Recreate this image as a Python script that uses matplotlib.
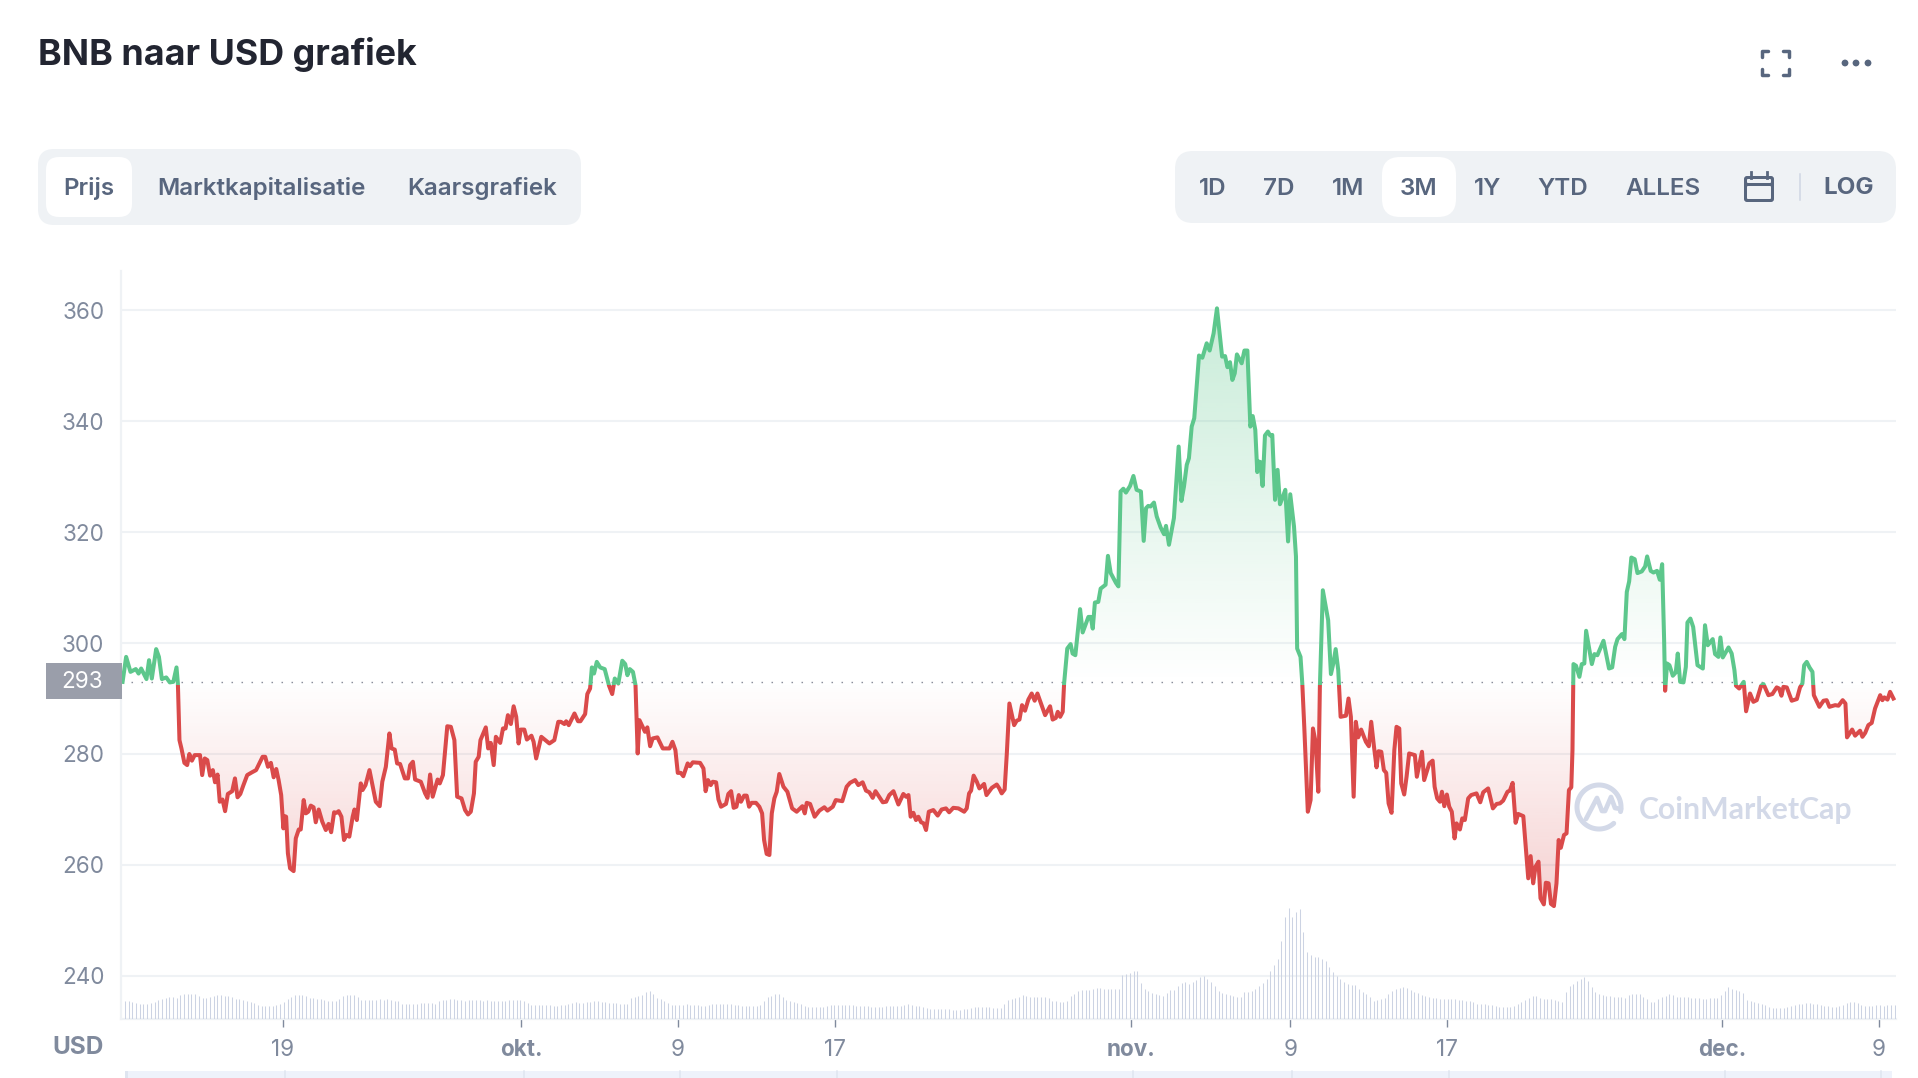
import matplotlib
matplotlib.use("Agg")
import matplotlib.pyplot as plt
import matplotlib.patches as mpatches
from matplotlib.path import Path
import numpy as np

plt.rcParams['font.family'] = ['Inter', 'DejaVu Sans']

# prijs: (dag, USD), dag 1 = 1 sept.
sep_points = [
    (10.88,293.0),(11.06,297.5),(11.28,294.8),(11.55,295.3),(11.69,294.5),(11.82,295.4),(12.09,293.5),(12.22,296.9),
    (12.36,293.6),(12.58,298.9),(12.72,297.5),(12.87,293.5),(13.09,293.8),(13.27,292.9),(13.45,293.0),(13.61,295.6),
    (13.68,292.7),(13.76,282.5),(13.86,281.0),(14.01,278.4),(14.15,278.0),(14.26,280.0),(14.39,278.8),(14.53,279.8),
    (14.80,279.8),(14.91,276.2),(15.04,279.2),(15.17,278.9),(15.31,276.1),(15.45,277.1),(15.56,274.9),(15.69,276.3),
    (15.80,271.4),(15.94,271.8),(16.07,269.7),(16.21,272.8),(16.43,273.3),(16.57,275.6),(16.70,272.2),(16.84,272.8),
    (17.00,274.4),(17.19,276.2),(17.43,276.7),(17.64,277.1),(17.97,279.5),(18.10,279.5),(18.24,277.7),(18.39,278.4),
    (18.53,275.8),(18.66,277.3),(18.78,275.3),(18.91,272.6),(19.02,266.6),(19.09,268.8),(19.16,268.7),(19.25,262.1),
    (19.36,259.4),(19.54,258.9),(19.65,264.8),(19.80,266.4),(19.90,266.4),(20.05,271.7),(20.16,269.3),(20.28,269.6),
    (20.41,270.7),(20.55,270.4),(20.66,267.7),(20.81,270.0),(20.99,267.8),(21.17,266.3),(21.31,267.4),(21.44,265.9),
    (21.59,269.5),(21.71,269.4),(21.82,269.7),(21.96,268.7),(22.09,264.5),(22.22,265.4),(22.36,265.1),(22.53,268.7),
    (22.62,270.0),(22.74,268.1),(22.94,274.7),(23.03,273.5),(23.18,274.4),(23.38,277.1),(23.70,271.4),(23.90,270.6),
    (24.03,275.0),(24.21,277.7),(24.39,283.7),(24.50,281.0),(24.66,280.8),(24.78,278.3),(24.93,278.2),(25.17,275.6),
    (25.33,275.6),(25.44,278.0),(25.58,278.6),(25.69,275.4),(25.98,275.0),(26.20,272.9),(26.32,272.1),(26.45,276.3),
    (26.58,272.3),(26.83,275.4),(26.94,274.7),(27.10,276.2),(27.32,285.0),(27.50,284.9),(27.68,282.5),(27.82,272.3),
    (28.04,272.0),(28.22,269.9),(28.37,269.1),(28.51,269.6),(28.67,272.9),(28.76,278.6),(28.91,279.5),(29.00,282.5),
    (29.27,284.8),(29.39,281.0),(29.52,282.0),(29.67,278.0),(29.78,283.1),(30.00,282.0),(30.14,284.6),(30.27,284.6),
    (30.39,287.0),(30.54,285.4),(30.68,288.6),(30.81,286.7),
]
okt_points = [
    (30.93,281.9),(31.04,284.4),(31.22,284.4),(31.35,282.6),(31.58,283.3),(31.69,282.2),(31.82,279.2),(32.08,283.1),
    (32.49,281.9),(32.74,282.5),(32.94,285.8),(33.07,285.8),(33.25,285.4),(33.34,285.9),(33.47,285.2),(33.76,287.3),
    (33.94,285.9),(34.06,285.9),(34.30,287.2),(34.41,290.8),(34.55,291.8),(34.64,295.6),(34.75,294.5),(34.89,296.6),
    (35.06,295.6),(35.29,295.3),(35.51,292.3),(35.67,290.8),(35.80,293.6),(35.98,292.7),(36.18,296.8),(36.33,296.2),
    (36.44,294.2),(36.56,295.3),(36.72,294.8),(36.85,292.4),(36.96,280.1),(37.05,286.1),(37.33,284.0),(37.45,284.8),
    (37.59,281.4),(37.72,282.8),(37.96,283.0),(38.23,281.0),(38.57,281.0),(38.72,282.2),(38.87,280.7),(38.99,276.6),
    (39.14,276.6),(39.27,276.0),(39.49,278.3),(39.61,277.8),(39.75,278.5),(40.12,278.4),(40.29,277.4),(40.40,273.3),
    (40.52,275.3),(40.66,274.4),(40.76,275.0),(40.93,274.9),(41.05,271.8),(41.18,270.5),(41.43,271.0),(41.55,272.8),
    (41.69,273.3),(41.82,270.3),(41.96,270.5),(42.08,272.6),(42.19,271.4),(42.35,272.5),(42.48,272.5),(42.60,270.5),
    (42.73,271.2),(42.95,271.2),(43.12,270.5),(43.26,269.3),(43.36,264.5),(43.49,262.0),(43.63,261.8),(43.75,269.3),
    (43.88,272.0),(44.00,273.2),(44.13,276.4),(44.34,274.1),(44.54,273.2),(44.78,270.2),(45.01,269.6),(45.30,270.6),
    (45.42,269.3),(45.52,271.2),(45.69,271.0),(45.92,268.7),(46.16,269.8),(46.41,270.4),(46.57,269.8),(46.84,270.5),
    (46.99,271.7),(47.32,271.5),(47.54,274.1),(47.71,274.8),(47.97,275.3),(48.13,274.4),(48.35,274.9),(48.52,273.4),
    (48.69,273.1),(48.86,272.1),(49.00,273.3),(49.37,271.3),(49.54,271.4),(49.70,272.6),(49.91,273.3),(50.16,270.9),
    (50.41,272.8),(50.55,272.3),(50.67,272.6),(50.78,268.7),(50.92,269.4),(51.05,268.1),(51.17,268.7),(51.31,267.7),
    (51.44,267.5),(51.56,266.3),(51.70,269.6),(51.93,269.9),(52.15,268.9),(52.35,270.0),(52.57,270.2),(52.73,269.5),
    (52.94,270.3),(53.20,270.2),(53.49,269.6),(53.62,270.2),(53.74,272.9),(53.84,273.4),(53.97,276.1),(54.13,275.0),
    (54.26,273.8),(54.50,274.6),(54.62,272.6),(54.89,273.9),(55.14,274.5),(55.27,273.8),(55.39,272.9),(55.54,273.6),
    (55.65,280.1),(55.78,289.1),(56.02,285.2),(56.15,286.0),(56.29,286.2),(56.42,288.8),(56.57,287.8),(56.74,289.8),
    (56.91,290.9),(57.06,289.6),(57.20,290.9),(57.59,287.0),(57.84,288.6),(57.97,286.2),(58.13,286.5),(58.23,287.6),
    (58.35,286.7),(58.48,287.6),
]
nov_points = [
    (58.55,292.7),(58.71,299.0),(58.88,299.8),(58.98,298.1),(59.12,297.8),(59.36,306.1),(59.49,301.9),(59.78,304.7),
    (59.90,304.7),(60.00,302.6),(60.11,307.3),(60.28,307.4),(60.40,309.8),(60.65,310.5),(60.77,315.7),(60.91,312.6),
    (61.18,310.8),(61.30,310.2),(61.41,327.3),(61.55,327.8),(61.68,327.1),(61.89,328.3),(62.06,330.1),(62.22,327.6),
    (62.44,327.3),(62.58,318.4),(62.70,324.3),(62.81,324.7),(62.93,324.6),(63.10,325.3),(63.24,322.8),(63.44,320.8),
    (63.61,319.6),(63.71,321.1),(63.86,317.7),(64.11,322.5),(64.35,335.4),(64.49,325.6),(64.62,328.2),(64.76,332.1),
    (64.87,333.3),(65.01,339.0),(65.14,340.5),(65.38,351.8),(65.55,351.4),(65.77,354.0),(65.92,352.7),(66.12,355.8),
    (66.29,360.3),(66.55,351.6),(66.70,351.7),(66.82,349.7),(66.95,350.6),(67.07,347.4),(67.19,348.6),(67.30,352.0),
    (67.54,350.4),(67.68,352.7),(67.83,352.7),(67.98,339.0),(68.10,340.9),(68.23,338.4),(68.33,330.8),(68.40,332.7),
    (68.49,332.6),(68.60,328.3),(68.72,337.4),(68.87,338.1),(68.98,337.4),(69.09,337.5),(69.23,325.8),(69.36,331.2),
    (69.48,325.0),(69.60,326.1),(69.75,327.6),(69.89,318.3),(70.00,326.8),(70.19,321.0),(70.29,315.6),(70.35,299.0),
    (70.52,297.5),(70.61,292.7),(70.71,284.9),(70.89,269.6),(71.03,271.7),(71.15,284.6),(71.28,282.2),(71.42,273.2),
    (71.50,292.1),(71.65,309.5),(71.92,304.1),(72.06,294.4),(72.18,296.3),(72.30,298.9),(72.43,295.1),(72.55,286.7),
    (72.82,286.9),(72.95,290.0),(73.07,286.7),(73.21,272.3),(73.32,285.8),(73.44,283.0),(73.59,284.4),(73.83,282.2),
    (73.98,281.4),(74.10,285.8),(74.24,281.3),(74.37,277.6),(74.47,280.5),(74.61,280.4),(74.74,277.1),(74.86,276.6),
    (74.98,271.1),(75.13,269.4),(75.27,280.7),(75.38,284.9),(75.52,284.6),(75.62,274.7),(75.77,272.7),(75.89,275.9),
    (76.02,280.1),(76.31,279.8),(76.41,275.9),(76.67,280.4),(76.78,275.3),(77.04,278.3),(77.21,278.8),(77.31,274.1),
    (77.44,272.0),(77.58,271.4),(77.68,273.2),(77.80,270.6),(77.93,272.7),(78.05,270.5),(78.18,269.6),(78.32,264.8),
    (78.42,267.5),(78.59,266.4),(78.71,268.4),(78.84,268.1),(79.01,272.0),(79.16,272.6),(79.43,272.9),(79.62,271.3),
    (79.77,273.1),(80.02,273.8),(80.26,270.2),(80.45,271.0),(80.62,271.1),(80.78,271.6),(81.00,273.2),(81.12,273.4),
    (81.26,274.8),(81.41,267.6),(81.54,269.2),(81.80,268.8),(82.05,257.6),(82.17,261.6),(82.30,256.7),(82.42,259.7),
    (82.57,260.6),(82.67,254.0),(82.84,252.9),(82.94,256.8),(83.08,256.7),(83.20,253.0),(83.35,252.6),(83.48,256.7),
    (83.59,264.5),(83.70,263.1),(83.86,265.4),(83.99,265.7),(84.11,273.5),(84.23,274.0),(84.29,280.7),
]
dec_points = [
    (84.34,296.2),(84.47,295.9),(84.64,293.9),(84.76,296.2),(84.89,296.3),(84.98,302.2),(85.27,296.2),(85.40,298.0),
    (85.55,297.8),(85.86,300.4),(86.14,295.4),(86.30,295.6),(86.45,299.3),(86.57,300.7),(86.79,301.6),(86.92,300.7),
    (87.04,309.2),(87.16,311.1),(87.27,315.4),(87.44,315.1),(87.58,312.6),(87.80,312.9),(87.97,313.8),(88.07,315.6),
    (88.25,313.0),(88.39,312.7),(88.57,313.0),(88.71,311.4),(88.83,314.2),(88.93,300.5),(88.98,291.4),(89.08,296.3),
    (89.20,296.0),(89.37,294.1),(89.52,294.7),(89.62,298.1),(89.74,293.0),(89.91,292.9),(90.03,295.7),(90.11,303.7),
    (90.26,304.4),(90.40,302.9),(90.62,296.0),(90.89,295.4),(91.00,303.2),(91.14,299.6),(91.39,300.7),(91.51,298.0),
    (91.68,297.5),(91.78,301.0),(91.90,297.4),(92.19,299.2),(92.35,298.1),(92.49,295.1),(92.57,292.3),(92.73,291.8),
    (92.96,293.0),(93.08,287.7),(93.28,290.9),(93.45,289.4),(93.62,289.7),(93.84,292.3),(93.96,292.6),(94.21,290.6),
    (94.41,290.8),(94.63,292.0),(94.75,291.8),(94.87,290.5),(94.97,292.1),(95.14,292.0),(95.39,289.6),(95.65,289.9),
    (95.81,292.0),(95.93,292.7),(96.02,296.0),(96.15,296.6),(96.29,295.6),(96.44,294.8),(96.51,290.6),(96.79,288.5),
    (97.00,289.6),(97.16,289.7),(97.30,288.5),(97.59,288.8),(97.76,288.7),(97.97,289.7),(98.11,289.1),(98.19,283.0),
    (98.45,284.4),(98.60,283.3),(98.85,284.2),(98.97,283.1),(99.11,283.8),(99.27,285.2),(99.44,285.6),(99.61,288.2),
    (99.87,290.6),(99.98,289.7),(100.08,290.2),(100.24,289.8),(100.37,291.2),(100.54,290.0),
]

# volume, relatief (zelfde schaal als de hoogte van de staafjes)
volume = [
    18,18,17,16,15,15,15,16,17,19,20,21,22,22,21,24,
    25,25,25,25,23,21,21,22,23,24,24,23,23,22,20,20,
    19,18,17,16,14,13,13,13,13,14,15,17,20,22,24,24,
    24,23,21,21,20,20,19,18,18,18,20,23,24,24,24,22,
    19,19,19,19,19,20,19,20,19,18,18,15,15,15,15,15,
    16,16,16,16,15,18,19,19,20,20,19,19,18,19,19,19,
    19,18,19,18,18,18,18,18,19,19,19,19,18,16,14,14,
    14,14,14,14,13,13,14,14,15,16,17,16,16,17,17,18,
    18,17,17,16,16,16,15,15,15,21,22,23,24,27,28,25,
    21,20,18,16,14,14,14,14,15,14,14,14,13,13,14,15,
    15,15,15,15,15,14,14,13,13,13,13,13,14,18,22,23,
    25,25,22,19,18,17,16,15,13,12,12,12,12,12,13,14,
    14,14,14,14,14,14,13,13,13,13,12,12,12,12,13,13,
    13,13,13,14,15,14,13,13,12,11,10,10,10,10,10,10,
    9,9,9,10,10,11,12,12,12,12,12,11,11,11,15,19,
    20,21,22,24,23,22,22,22,22,22,21,18,18,17,17,18,
    23,25,28,29,29,29,30,31,31,30,30,30,30,30,44,45,
    46,48,48,36,30,28,26,25,24,23,26,29,29,33,36,37,
    35,37,39,42,43,40,37,33,28,26,25,24,23,22,22,27,
    27,28,30,33,36,40,48,54,60,78,102,111,102,107,110,87,
    67,64,62,62,60,58,52,47,43,40,37,35,34,34,30,27,
    25,22,18,19,20,21,25,28,30,31,32,31,29,27,26,24,
    23,22,21,21,20,20,20,20,20,19,19,18,18,17,15,15,
    15,14,14,13,12,12,12,12,13,15,17,19,21,23,23,21,
    20,20,20,19,18,17,27,33,35,38,40,42,38,32,27,25,
    24,23,23,22,22,22,21,24,25,25,25,22,20,17,17,20,
    22,23,25,24,22,22,22,22,21,21,21,20,20,21,21,21,
    24,28,32,30,29,28,26,19,18,17,16,15,14,12,11,11,
    11,11,12,13,14,15,15,16,16,15,15,14,13,13,12,12,
    13,14,16,17,17,16,14,13,13,13,14,14,13,14,14,14,
]

base_price = 293
y_ticks = [240, 260, 280, 300, 320, 340, 360]
x_ticks = [19, 31.05, 39, 46.95, 61.94, 70, 77.95, 91.87, 99.81]
x_labels = ['19', 'okt.', '9', '17', 'nov.', '9', '17', 'dec.', '9']
bold_labels = ['okt.', 'nov.', 'dec.']

W, H = 1918, 1078
INK = '#222531'
TXT = '#58667e'
AXIS_TXT = '#808a9d'
GRID = '#eff2f5'
PANEL = '#eff2f5'
GREEN = '#5dc78c'
RED = '#da4a4a'

points = sep_points + okt_points + nov_points + dec_points
days = np.array([p[0] for p in points])
prices = np.array([p[1] for p in points])

fig = plt.figure(figsize=(W / 100, H / 100), dpi=100, facecolor='white')

# alles buiten de grafiek (knoppen, titel), in pixels
ui = fig.add_axes([0, 0, 1, 1], zorder=0)
ui.set_xlim(0, W)
ui.set_ylim(H, 0)
ui.axis('off')


def box(x0, y0, x1, y1, r, color):
    ui.add_patch(mpatches.FancyBboxPatch((x0 + r, y0 + r), x1 - x0 - 2 * r, y1 - y0 - 2 * r,
                                         boxstyle=f"round,pad={r},rounding_size={r}",
                                         fc=color, ec='none'))


ui.text(38, 54, 'BNB naar USD grafiek', fontsize=25.8, fontweight='bold', color=INK, va='center')

box(38, 149, 581, 225, 16, PANEL)
box(46, 157, 132, 217, 13, 'white')
for x, s in [(89, 'Prijs'), (261, 'Marktkapitalisatie'), (482, 'Kaarsgrafiek')]:
    ui.text(x, 188.5, s, fontsize=17.4, fontweight='semibold', color=TXT, ha='center', va='center')

box(1175, 151, 1896, 223, 18, PANEL)
box(1382, 157, 1456, 217, 18, 'white')
for x, s in [(1213, '1D'), (1279, '7D'), (1348, '1M'), (1419, '3M'), (1488, '1Y'), (1563, 'YTD'), (1663, 'ALLES')]:
    ui.text(x, 189, s, fontsize=17.4, fontweight='semibold', color=TXT, ha='center', va='center')
ui.text(1849, 188, 'LOG', fontsize=17.4, fontweight='bold', color=TXT, ha='center', va='center')
ui.plot([1799.5, 1799.5], [174, 200], color='#cfd6e4', lw=1.1)

# kalender icoon
box(1744, 176, 1774, 202, 3, TXT)
box(1747, 186, 1771, 199, 1, PANEL)
box(1747, 179, 1771, 183, 1, PANEL)
ui.plot([1751, 1751], [172, 178], color=TXT, lw=2.0)
ui.plot([1767, 1767], [172, 178], color=TXT, lw=2.0)

# fullscreen icoon
for xs, ys in [([1762, 1762, 1768], [57, 51, 51]), ([1783, 1789, 1789], [51, 51, 57]),
               ([1762, 1762, 1768], [69, 75, 75]), ([1783, 1789, 1789], [75, 75, 69])]:
    ui.plot(xs, ys, color=TXT, lw=2.5, solid_capstyle='round', solid_joinstyle='round')
for x in [1845, 1856, 1868]:
    ui.add_patch(mpatches.Circle((x, 63), 3.4, fc=TXT, ec='none'))

# balkje onderaan
ui.add_patch(mpatches.Rectangle((125, 1071), 1767, 7, fc='#eef2fb', ec='none'))
ui.add_patch(mpatches.Rectangle((125, 1071), 3, 7, fc='#dfe5f0', ec='none'))
for x in [285, 524, 680, 837, 1133, 1292, 1449, 1725, 1881]:
    ui.plot([x, x], [1071, 1078], color='#dfe5f0', lw=1.1)

# de grafiek zelf
left, right, top, bottom = 121, 1896, 271, 1019
ax = fig.add_axes([left / W, 1 - bottom / H, (right - left) / W, (bottom - top) / H], zorder=1)
ax.patch.set_alpha(0)
xmin, xmax = 10.80, 100.67
ymin, ymax = 232.25, 367.03

ax.set_yticks(y_ticks)
ax.set_xticks(x_ticks)
ax.set_xticklabels(x_labels)
ax.grid(axis='y', color=GRID, lw=1.5, zorder=1)
ax.set_axisbelow(True)
for side in ['top', 'right']:
    ax.spines[side].set_visible(False)
for side in ['left', 'bottom']:
    ax.spines[side].set_color(GRID)
    ax.spines[side].set_linewidth(1.6)
ax.tick_params(axis='y', length=0, pad=12, labelsize=16.2, labelcolor=AXIS_TXT)
ax.tick_params(axis='x', length=5.8, width=1.0, color=AXIS_TXT, pad=8.8, labelsize=16.2, labelcolor=AXIS_TXT)
for lab in ax.get_xticklabels():
    if lab.get_text() in bold_labels:
        lab.set_fontweight('bold')


def gradient_fill(where, color, y0, y1, a0, a1):
    coll = ax.fill_between(days, prices, base_price, where=where, interpolate=True, fc='none', ec='none')
    clip = Path.make_compound_path(*coll.get_paths())
    rgba = np.zeros((256, 1, 4))
    rgba[..., :3] = matplotlib.colors.to_rgb(color)
    rgba[:, 0, 3] = np.linspace(a0, a1, 256)
    im = ax.imshow(rgba, extent=(xmin, xmax, y0, y1), origin='lower', aspect='auto', zorder=2)
    im.set_clip_path(clip, ax.transData)


gradient_fill(prices >= base_price, GREEN, base_price, 361, 0.0, 0.34)
gradient_fill(prices <= base_price, RED, 252, base_price, 0.26, 0.0)

# volume op eigen as, onderaan
ax_vol = fig.add_axes(ax.get_position(), zorder=1.5)
ax_vol.patch.set_alpha(0)
ax_vol.axis('off')
ax_vol.set_xlim(xmin, xmax)
ax_vol.set_ylim(0, bottom - top)
vol_days = np.linspace(11, 100.6, len(volume))
ax_vol.vlines(vol_days, 0, volume, color='#ccd3e3', lw=0.75)

ax.axhline(base_price, color='#8b8f9c', lw=1.0, ls=(0, (1.1, 6.1)), zorder=3)

split = 292.5
line_up, = ax.plot(days, prices, color=GREEN, lw=2.9, zorder=4, solid_joinstyle='round')
line_down, = ax.plot(days, prices, color=RED, lw=2.9, zorder=4, solid_joinstyle='round')
line_up.set_clip_path(mpatches.Rectangle((xmin, split), xmax - xmin, ymax - split, transform=ax.transData))
line_down.set_clip_path(mpatches.Rectangle((xmin, ymin), xmax - xmin, split - ymin, transform=ax.transData))

ax.set_xlim(xmin, xmax)
ax.set_ylim(ymin, ymax)

# bovenlaag: prijslabel, USD en watermerk
top_ui = fig.add_axes([0, 0, 1, 1], zorder=3)
top_ui.set_xlim(0, W)
top_ui.set_ylim(H, 0)
top_ui.axis('off')
top_ui.patch.set_alpha(0)
top_ui.add_patch(mpatches.Rectangle((46, 663), 76, 36, fc='#9a9eaa', ec='none'))
top_ui.text(103, 682.5, str(base_price), fontsize=16.2, color='white', ha='right', va='center')
top_ui.text(104, 1047.5, 'USD', fontsize=17.5, fontweight='bold', color=AXIS_TXT, ha='right', va='center')

MARK = '#d3d9e8'
th = np.radians(np.linspace(48, 372, 120))
top_ui.plot(1599 + 22 * np.cos(th), 807 + 22 * np.sin(th), color=MARK, lw=3.6, solid_capstyle='round')
top_ui.plot([1586, 1597, 1602, 1605, 1611, 1615, 1621], [819, 798, 811, 811, 797, 808, 809], color=MARK, lw=3.4,
            solid_capstyle='round', solid_joinstyle='round')
top_ui.text(1639, 810, 'CoinMarketCap', fontsize=21.8, fontweight='bold', color=MARK, va='center', family=['Lato', 'Inter'])

fig.savefig('out.png', dpi=100)
